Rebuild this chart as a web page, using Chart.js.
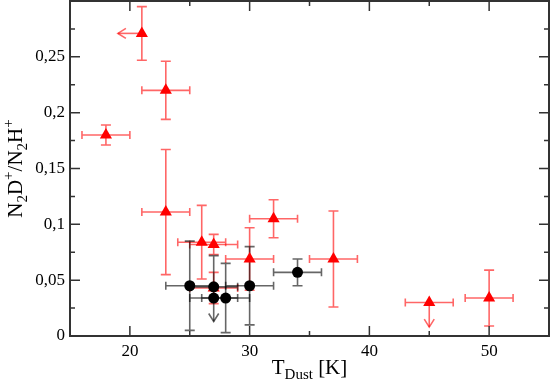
<!DOCTYPE html>
<html>
<head>
<meta charset="utf-8">
<script src="https://cdn.jsdelivr.net/npm/chart.js@4/dist/chart.umd.min.js"></script>
<style>
html,body{margin:0;padding:0;background:#fff;}
#wrap{width:550px;height:381px;}
</style>
</head>
<body>
<div id="wrap"><canvas id="c"></canvas></div>
<script>
// red triangles
let redX=[18,21,23,23,26,27,27,30,32,37,45,50];
let redY=[0.180,0.271,0.220,0.111,0.084,0.082,0.043,0.069,0.105,0.069,0.030,0.034];
let redXErr=[2,0,2,2,2,2,2,2,2,2,2,2];
let redYErr=[0.009,0.024,0.026,0.056,0.033,0.009,0.014,0.028,0.017,0.043,0,0.025];
// limits: arrow end value (x for left, y for down)
let redLimit=['','left','','','','','','','','','down',''];
let redLimitTo=[null,19,null,null,null,null,null,null,null,null,0.008,null];

// black circles
let blackX=[25,27,27,28,30,34];
let blackY=[0.045,0.044,0.034,0.034,0.045,0.057];
let blackXErr=[2,2,2,2,2,2];
let blackYErr=[0.040,0.028,0,0.031,0.035,0.012];
let blackLimit=['','down','','','',''];
let blackLimitTo=[null,0.013,null,null,null,null];

let xTicks=[20,30,40,50];
let xMinor=[15,25,35,45,55];
let yTicks=[0,0.05,0.1,0.15,0.2,0.25];
let yMinor=[0.025,0.075,0.125,0.175,0.225,0.275,0.3];

function pts(xs,ys){
let out=[];
for(let i=0;i<xs.length;i++) out.push({x:xs[i],y:ys[i]});
return out;
}

function arrowHead(ctx,x,y,dir){
ctx.beginPath();
if(dir=='left'){
ctx.moveTo(x+8,y-5);ctx.lineTo(x,y);ctx.lineTo(x+8,y+5);
}else{
ctx.moveTo(x-5,y-8);ctx.lineTo(x,y);ctx.lineTo(x+5,y-8);
}
ctx.stroke();
}

function drawBars(ctx,xs,ys,X,Y,XE,YE,LIM,LIMTO,color){
ctx.save();
ctx.strokeStyle=color;
ctx.lineWidth=1.6;
for(let i=0;i<X.length;i++){
let px=xs.getPixelForValue(X[i]);
let py=ys.getPixelForValue(Y[i]);
if(XE[i]>0){
let x1=xs.getPixelForValue(X[i]-XE[i]);
let x2=xs.getPixelForValue(X[i]+XE[i]);
ctx.beginPath();
ctx.moveTo(x1,py);ctx.lineTo(x2,py);
ctx.moveTo(x1,py-4);ctx.lineTo(x1,py+4);
ctx.moveTo(x2,py-4);ctx.lineTo(x2,py+4);
ctx.stroke();
}
if(YE[i]>0){
let y1=ys.getPixelForValue(Y[i]+YE[i]);
let y2=ys.getPixelForValue(Y[i]-YE[i]);
ctx.beginPath();
ctx.moveTo(px,y1);ctx.lineTo(px,py);
ctx.moveTo(px-5,y1);ctx.lineTo(px+5,y1);
if(LIM[i]!='down'){
ctx.moveTo(px,py);ctx.lineTo(px,y2);
ctx.moveTo(px-5,y2);ctx.lineTo(px+5,y2);
}
ctx.stroke();
}
if(LIM[i]=='left'){
let ex=xs.getPixelForValue(LIMTO[i]);
ctx.beginPath();ctx.moveTo(px,py);ctx.lineTo(ex,py);ctx.stroke();
arrowHead(ctx,ex,py,'left');
}
if(LIM[i]=='down'){
let ey=ys.getPixelForValue(LIMTO[i]);
ctx.beginPath();ctx.moveTo(px,py);ctx.lineTo(px,ey);ctx.stroke();
arrowHead(ctx,px,ey,'down');
}
}
ctx.restore();
}

// draws pieces [text, kind] with kind '' normal, 's' sub, 'p' sup
function drawRich(ctx,parts,cx,baseY){
let big='21px "Liberation Serif", "DejaVu Serif", serif';
let small='15px "Liberation Serif", "DejaVu Serif", serif';
let total=0;
parts.forEach(p=>{ctx.font=p[1]?small:big;total+=ctx.measureText(p[0]).width;});
let x=cx-total/2;
ctx.textBaseline='alphabetic';
ctx.textAlign='left';
parts.forEach(p=>{
ctx.font=p[1]?small:big;
let dy=p[1]=='s'?5:(p[1]=='p'?-9:0);
ctx.fillText(p[0],x,baseY+dy);
x+=ctx.measureText(p[0]).width;
});
}

const decor={
id:'decor',
beforeDatasetsDraw(chart){
let ctx=chart.ctx,xs=chart.scales.x,ys=chart.scales.y;
drawBars(ctx,xs,ys,redX,redY,redXErr,redYErr,redLimit,redLimitTo,'rgba(255,0,0,0.6)');
drawBars(ctx,xs,ys,blackX,blackY,blackXErr,blackYErr,blackLimit,blackLimitTo,'rgba(0,0,0,0.6)');
},
afterDraw(chart){
let ctx=chart.ctx,xs=chart.scales.x,ys=chart.scales.y,a=chart.chartArea;
ctx.save();
ctx.strokeStyle='#333';
ctx.lineWidth=2;
ctx.strokeRect(a.left,a.top,a.right-a.left,a.bottom-a.top);
ctx.lineWidth=1.5;
ctx.beginPath();
xTicks.forEach(v=>{let p=xs.getPixelForValue(v);
ctx.moveTo(p,a.bottom);ctx.lineTo(p,a.bottom-10);ctx.moveTo(p,a.top);ctx.lineTo(p,a.top+10);});
xMinor.forEach(v=>{let p=xs.getPixelForValue(v);
ctx.moveTo(p,a.bottom);ctx.lineTo(p,a.bottom-5);ctx.moveTo(p,a.top);ctx.lineTo(p,a.top+5);});
yTicks.forEach(v=>{let p=ys.getPixelForValue(v);
ctx.moveTo(a.left,p);ctx.lineTo(a.left+10,p);ctx.moveTo(a.right,p);ctx.lineTo(a.right-10,p);});
yMinor.forEach(v=>{let p=ys.getPixelForValue(v);
ctx.moveTo(a.left,p);ctx.lineTo(a.left+5,p);ctx.moveTo(a.right,p);ctx.lineTo(a.right-5,p);});
ctx.stroke();
ctx.fillStyle='#000';
// x title
drawRich(ctx,[['T',''],['Dust','s'],[' [K]','']],(a.left+a.right)/2,374);
// y title
ctx.translate(22,(a.top+a.bottom)/2);
ctx.rotate(-Math.PI/2);
drawRich(ctx,[['N',''],['2','s'],['D',''],['+','p'],['/N',''],['2','s'],['H',''],['+','p']],0,0);
ctx.restore();
}
};

new Chart(document.getElementById('c'),{
type:'scatter',
data:{
datasets:[
{label:'black',data:pts(blackX,blackY),pointStyle:'circle',pointRadius:5.5,
backgroundColor:'#000',borderColor:'#000',borderWidth:0,order:0},
{label:'red',data:pts(redX,redY),pointStyle:'triangle',pointRadius:7,
backgroundColor:'#ff0000',borderColor:'#ff0000',borderWidth:0,order:1}
]
},
options:{
responsive:true,
maintainAspectRatio:false,
animation:false,
layout:{autoPadding:false,padding:{top:1,right:1,left:0,bottom:0}},
plugins:{legend:{display:false},tooltip:{enabled:false}},
scales:{
x:{type:'linear',min:15,max:55,
afterBuildTicks:function(s){s.ticks=xTicks.map(v=>({value:v}));},
afterFit:function(s){s.height=45;s.paddingLeft=0;s.paddingRight=0;},
grid:{display:false,drawTicks:false},
border:{display:false},
ticks:{color:'#000',padding:5,font:{family:'Liberation Serif',size:17},maxRotation:0}
},
y:{type:'linear',min:0,max:0.3,
afterBuildTicks:function(s){s.ticks=yTicks.map(v=>({value:v}));},
afterFit:function(s){s.width=70;s.paddingTop=0;s.paddingBottom=0;},
grid:{display:false,drawTicks:false},
border:{display:false},
ticks:{color:'#000',padding:5,font:{family:'Liberation Serif',size:17},
callback:function(v){
return String(Math.round(v*100)/100).replace('.',',');
}}
}
}
},
plugins:[decor]
});
</script>
</body>
</html>
